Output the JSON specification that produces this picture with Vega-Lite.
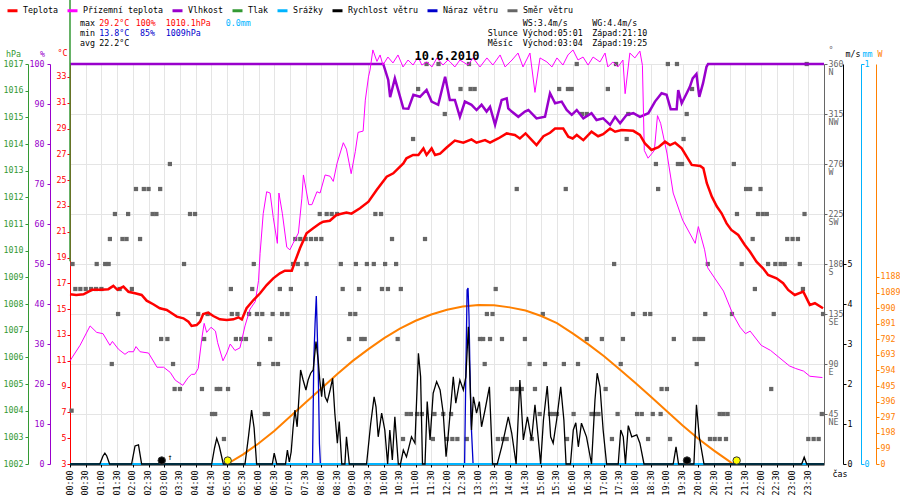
{
  "$schema": "https://vega.github.io/schema/vega-lite/v6.json",
  "width": 754,
  "height": 400,
  "autosize": {"type": "none"},
  "padding": {"left": 70, "top": 64, "right": 76, "bottom": 36},
  "background": "#ffffff",
  "config": {
    "view": {"stroke": null},
    "font": "DejaVu Sans Mono",
    "axis": {"labelFont": "DejaVu Sans Mono", "labelFontSize": 8.3, "titleFont": "DejaVu Sans Mono", "titleFontSize": 8.3, "titleFontWeight": "normal", "grid": false, "labelFlush": false, "labelOverlap": false, "titleAngle": 0, "titleBaseline": "middle"}
  },
  "datasets": {
    "temp": [
      {"t":0,"v":16.15},{"t":0.2,"v":16.1},{"t":0.43,"v":16.15},{"t":0.7,"v":16.5},{"t":1.0,"v":16.5},{"t":1.22,"v":16.55},{"t":1.38,"v":16.8},{"t":1.51,"v":16.5},{"t":1.7,"v":16.75},{"t":1.86,"v":16.35},{"t":2.07,"v":16.23},{"t":2.28,"v":16.1},{"t":2.44,"v":15.66},{"t":2.65,"v":15.38},{"t":2.86,"v":15.07},{"t":3.08,"v":14.94},{"t":3.24,"v":14.68},{"t":3.4,"v":14.42},{"t":3.61,"v":14.29},{"t":3.77,"v":14.03},{"t":3.87,"v":13.7},{"t":4.03,"v":13.77},{"t":4.14,"v":14.03},{"t":4.24,"v":14.63},{"t":4.4,"v":14.73},{"t":4.56,"v":14.47},{"t":4.77,"v":14.21},{"t":4.99,"v":14.16},{"t":5.2,"v":14.21},{"t":5.36,"v":14.37},{"t":5.47,"v":14.2},{"t":5.62,"v":15.07},{"t":5.84,"v":15.71},{"t":6.05,"v":16.23},{"t":6.26,"v":16.87},{"t":6.47,"v":17.39},{"t":6.68,"v":17.78},{"t":6.84,"v":17.98},{"t":7.06,"v":17.98},{"t":7.16,"v":18.68},{"t":7.32,"v":19.72},{"t":7.53,"v":20.88},{"t":7.74,"v":21.27},{"t":7.96,"v":21.65},{"t":8.06,"v":21.78},{"t":8.27,"v":21.85},{"t":8.48,"v":22.3},{"t":8.8,"v":22.48},{"t":8.96,"v":22.4},{"t":9.23,"v":22.82},{"t":9.5,"v":23.33},{"t":9.76,"v":24.24},{"t":10.08,"v":25.27},{"t":10.29,"v":25.53},{"t":10.61,"v":26.3},{"t":10.71,"v":26.69},{"t":10.92,"v":26.95},{"t":11.09,"v":26.95},{"t":11.25,"v":27.46},{"t":11.35,"v":26.95},{"t":11.51,"v":27.46},{"t":11.62,"v":26.95},{"t":11.78,"v":27.05},{"t":11.99,"v":27.53},{"t":12.25,"v":28.06},{"t":12.52,"v":27.9},{"t":12.78,"v":28.16},{"t":12.94,"v":27.9},{"t":13.21,"v":28.1},{"t":13.37,"v":27.9},{"t":13.63,"v":28.23},{"t":13.9,"v":28.62},{"t":14.16,"v":28.5},{"t":14.32,"v":28.23},{"t":14.5,"v":28.62},{"t":14.7,"v":28.1},{"t":14.85,"v":27.72},{"t":15.07,"v":28.4},{"t":15.28,"v":28.67},{"t":15.44,"v":29.0},{"t":15.7,"v":29.0},{"t":15.86,"v":28.36},{"t":16.0,"v":28.23},{"t":16.13,"v":28.5},{"t":16.34,"v":28.1},{"t":16.6,"v":28.75},{"t":16.81,"v":28.4},{"t":16.97,"v":28.56},{"t":17.19,"v":29.0},{"t":17.35,"v":28.75},{"t":17.56,"v":28.88},{"t":17.93,"v":28.82},{"t":18.14,"v":28.5},{"t":18.3,"v":27.85},{"t":18.51,"v":27.34},{"t":18.73,"v":27.55},{"t":18.94,"v":27.98},{"t":19.1,"v":27.72},{"t":19.26,"v":27.9},{"t":19.47,"v":27.46},{"t":19.63,"v":26.82},{"t":19.79,"v":26.18},{"t":20.06,"v":26.1},{"t":20.16,"v":25.92},{"t":20.27,"v":24.76},{"t":20.43,"v":23.72},{"t":20.59,"v":22.95},{"t":20.74,"v":22.43},{"t":20.9,"v":21.65},{"t":21.05,"v":21.14},{"t":21.27,"v":20.75},{"t":21.48,"v":19.98},{"t":21.64,"v":19.47},{"t":21.85,"v":18.68},{"t":22.06,"v":18.17},{"t":22.22,"v":17.65},{"t":22.49,"v":17.39},{"t":22.7,"v":17.01},{"t":22.86,"v":16.49},{"t":23.07,"v":16.1},{"t":23.34,"v":16.36},{"t":23.55,"v":15.33},{"t":23.71,"v":15.46},{"t":23.97,"v":15.07}
    ],
    "feel": [
      {"t":0,"v":11.0},{"t":0.32,"v":12.2},{"t":0.64,"v":13.7},{"t":0.85,"v":13.2},{"t":1.05,"v":13.1},{"t":1.27,"v":12.2},{"t":1.35,"v":12.5},{"t":1.54,"v":11.9},{"t":1.75,"v":11.5},{"t":1.86,"v":11.7},{"t":2.02,"v":11.7},{"t":2.1,"v":12.1},{"t":2.23,"v":11.7},{"t":2.5,"v":11.6},{"t":2.77,"v":10.5},{"t":2.98,"v":10.5},{"t":3.19,"v":10.1},{"t":3.35,"v":9.5},{"t":3.59,"v":9.1},{"t":3.76,"v":9.7},{"t":3.87,"v":9.95},{"t":3.97,"v":9.95},{"t":4.08,"v":10.4},{"t":4.2,"v":12.8},{"t":4.27,"v":13.9},{"t":4.35,"v":13.2},{"t":4.49,"v":13.6},{"t":4.63,"v":13.3},{"t":4.7,"v":12.4},{"t":4.87,"v":11.0},{"t":4.99,"v":11.6},{"t":5.1,"v":12.3},{"t":5.25,"v":11.8},{"t":5.41,"v":12.0},{"t":5.57,"v":13.7},{"t":5.73,"v":15.0},{"t":5.9,"v":15.6},{"t":6.0,"v":17.2},{"t":6.05,"v":19.3},{"t":6.15,"v":22.4},{"t":6.26,"v":24.1},{"t":6.37,"v":24.0},{"t":6.47,"v":22.1},{"t":6.6,"v":20.1},{"t":6.65,"v":24.0},{"t":6.76,"v":22.4},{"t":6.9,"v":19.8},{"t":7.0,"v":19.6},{"t":7.1,"v":20.1},{"t":7.27,"v":20.9},{"t":7.38,"v":23.6},{"t":7.43,"v":25.4},{"t":7.6,"v":23.1},{"t":7.7,"v":23.1},{"t":7.86,"v":24.1},{"t":7.96,"v":24.0},{"t":8.12,"v":25.4},{"t":8.28,"v":25.3},{"t":8.38,"v":24.9},{"t":8.5,"v":26.3},{"t":8.7,"v":27.9},{"t":8.8,"v":27.4},{"t":8.95,"v":25.5},{"t":9.08,"v":27.2},{"t":9.17,"v":28.7},{"t":9.33,"v":28.8},{"t":9.4,"v":31.2},{"t":9.5,"v":33.0},{"t":9.55,"v":33.53},{"t":9.64,"v":35.09},{"t":9.77,"v":34.2},{"t":9.87,"v":34.7},{"t":9.96,"v":33.92},{"t":10.12,"v":34.54},{"t":10.28,"v":34.08},{"t":10.44,"v":34.7},{"t":10.6,"v":33.77},{"t":10.76,"v":34.31},{"t":10.92,"v":33.92},{"t":11.08,"v":34.54},{"t":11.2,"v":33.92},{"t":11.36,"v":34.16},{"t":11.52,"v":33.77},{"t":11.68,"v":34.47},{"t":11.87,"v":33.92},{"t":12.03,"v":34.31},{"t":12.1,"v":34.16},{"t":12.25,"v":33.77},{"t":12.41,"v":34.31},{"t":12.67,"v":33.92},{"t":12.83,"v":34.47},{"t":13.05,"v":33.77},{"t":13.27,"v":34.47},{"t":13.46,"v":33.92},{"t":13.69,"v":34.7},{"t":13.85,"v":33.77},{"t":14.07,"v":34.31},{"t":14.26,"v":34.85},{"t":14.42,"v":33.77},{"t":14.64,"v":34.85},{"t":14.8,"v":31.8},{"t":14.96,"v":34.47},{"t":15.18,"v":34.16},{"t":15.34,"v":33.77},{"t":15.5,"v":34.47},{"t":15.69,"v":33.92},{"t":15.85,"v":34.7},{"t":16.01,"v":35.09},{"t":16.17,"v":34.31},{"t":16.33,"v":34.54},{"t":16.49,"v":33.92},{"t":16.65,"v":34.54},{"t":16.87,"v":34.16},{"t":17.03,"v":34.85},{"t":17.12,"v":33.77},{"t":17.28,"v":34.16},{"t":17.44,"v":33.77},{"t":17.6,"v":34.31},{"t":17.67,"v":31.7},{"t":17.82,"v":34.85},{"t":17.98,"v":34.47},{"t":18.14,"v":35.0},{"t":18.22,"v":33.9},{"t":18.28,"v":27.3},{"t":18.4,"v":26.7},{"t":18.6,"v":27.3},{"t":18.7,"v":30.0},{"t":18.8,"v":29.4},{"t":19.0,"v":27.1},{"t":19.2,"v":24.0},{"t":19.5,"v":21.9},{"t":19.9,"v":20.1},{"t":20.0,"v":21.4},{"t":20.2,"v":19.6},{"t":20.3,"v":18.2},{"t":20.8,"v":16.4},{"t":21.1,"v":14.6},{"t":21.33,"v":13.6},{"t":21.5,"v":13.1},{"t":21.65,"v":13.3},{"t":22.0,"v":12.2},{"t":22.3,"v":11.8},{"t":22.6,"v":11.2},{"t":22.9,"v":10.6},{"t":23.1,"v":10.4},{"t":23.35,"v":10.2},{"t":23.55,"v":9.8},{"t":23.95,"v":9.7}
    ],
    "hum": [
      {"t":0,"v":100},{"t":9.97,"v":100},{"t":10.13,"v":96},{"t":10.19,"v":91.7},{"t":10.34,"v":96.4},{"t":10.61,"v":88.9},{"t":10.77,"v":88.8},{"t":10.93,"v":92.3},{"t":11.14,"v":91.8},{"t":11.35,"v":93.5},{"t":11.51,"v":90.6},{"t":11.72,"v":89.8},{"t":11.94,"v":96.8},{"t":12.09,"v":91},{"t":12.25,"v":91},{"t":12.41,"v":86.8},{"t":12.57,"v":90.6},{"t":12.78,"v":89.8},{"t":12.94,"v":88.5},{"t":13.1,"v":89.8},{"t":13.26,"v":88.1},{"t":13.37,"v":89.3},{"t":13.53,"v":84.8},{"t":13.74,"v":91},{"t":13.9,"v":91.4},{"t":13.95,"v":88.9},{"t":14.06,"v":88.1},{"t":14.27,"v":86.8},{"t":14.48,"v":88.1},{"t":14.59,"v":88.5},{"t":14.85,"v":86.4},{"t":15.12,"v":86.8},{"t":15.28,"v":92.7},{"t":15.44,"v":90.2},{"t":15.65,"v":90.6},{"t":15.81,"v":88.5},{"t":15.97,"v":87.3},{"t":16.13,"v":88.5},{"t":16.34,"v":86.4},{"t":16.6,"v":87.7},{"t":16.76,"v":86},{"t":16.97,"v":86.4},{"t":17.19,"v":84.8},{"t":17.35,"v":86.8},{"t":17.51,"v":85.2},{"t":17.72,"v":87.3},{"t":17.93,"v":87.7},{"t":18.14,"v":86.8},{"t":18.41,"v":87.7},{"t":18.62,"v":90.6},{"t":18.83,"v":92.7},{"t":18.99,"v":92.3},{"t":19.12,"v":88.7},{"t":19.31,"v":88.7},{"t":19.36,"v":93.5},{"t":19.47,"v":90.2},{"t":19.63,"v":92.7},{"t":19.73,"v":94.3},{"t":19.82,"v":96.4},{"t":19.94,"v":97.5},{"t":20.03,"v":91.8},{"t":20.15,"v":95.2},{"t":20.26,"v":99.3},{"t":20.31,"v":100},{"t":24,"v":100}
    ],
    "pres": [{"t":0,"v":1009.6},{"t":0,"v":1019.6}],
    "rain": [{"t":0,"v":0},{"t":24,"v":0}],
    "gust": [
      {"t":0,"v":0},{"t":7.72,"v":0},{"t":7.76,"v":2.6},{"t":7.8,"v":3.5},{"t":7.84,"v":4.2},{"t":7.87,"v":3.3},{"t":7.9,"v":2.4},{"t":7.94,"v":0.5},{"t":7.97,"v":0},{"t":12.56,"v":0},{"t":12.6,"v":2.3},{"t":12.64,"v":4.35},{"t":12.67,"v":4.4},{"t":12.7,"v":3.7},{"t":12.73,"v":2.4},{"t":12.77,"v":1.0},{"t":12.8,"v":0.5},{"t":12.83,"v":0},{"t":24,"v":0}
    ],
    "wind": [
      {"t":0,"v":0},{"t":0.95,"v":0},{"t":1.05,"v":0.2},{"t":1.11,"v":0.27},{"t":1.17,"v":0.2},{"t":1.26,"v":0},{"t":1.96,"v":0},{"t":2.07,"v":0.45},{"t":2.18,"v":0.48},{"t":2.28,"v":0},{"t":4.51,"v":0},{"t":4.6,"v":0.4},{"t":4.67,"v":0.64},{"t":4.75,"v":0.45},{"t":4.88,"v":0},{"t":5.57,"v":0},{"t":5.68,"v":0.68},{"t":5.78,"v":1.35},{"t":5.86,"v":0.9},{"t":5.94,"v":0},{"t":6.44,"v":0},{"t":6.5,"v":0.27},{"t":6.58,"v":0},{"t":6.86,"v":0},{"t":6.92,"v":0.35},{"t":6.98,"v":0.05},{"t":7.04,"v":0.3},{"t":7.1,"v":0.9},{"t":7.16,"v":1.35},{"t":7.23,"v":0.93},{"t":7.34,"v":2.35},{"t":7.42,"v":2.1},{"t":7.51,"v":1.85},{"t":7.58,"v":2.1},{"t":7.66,"v":2.27},{"t":7.74,"v":2.35},{"t":7.83,"v":3.06},{"t":7.9,"v":2.6},{"t":7.95,"v":2.1},{"t":8.01,"v":1.68},{"t":8.06,"v":2.14},{"t":8.12,"v":1.68},{"t":8.19,"v":1.56},{"t":8.28,"v":1.85},{"t":8.36,"v":2.14},{"t":8.43,"v":1.27},{"t":8.51,"v":0.52},{"t":8.57,"v":1.06},{"t":8.65,"v":0},{"t":8.75,"v":0},{"t":8.8,"v":0.68},{"t":8.89,"v":0},{"t":9.44,"v":0},{"t":9.57,"v":1.0},{"t":9.68,"v":1.68},{"t":9.74,"v":1.43},{"t":9.81,"v":0.68},{"t":9.92,"v":1.27},{"t":10.02,"v":0.85},{"t":10.11,"v":0},{"t":10.18,"v":0.85},{"t":10.26,"v":0.1},{"t":10.34,"v":1.18},{"t":10.45,"v":0},{"t":10.52,"v":0},{"t":10.61,"v":0.35},{"t":10.71,"v":0.18},{"t":10.87,"v":0.68},{"t":10.98,"v":0.52},{"t":11.09,"v":2.77},{"t":11.16,"v":2.18},{"t":11.22,"v":0},{"t":11.3,"v":0},{"t":11.37,"v":1.56},{"t":11.46,"v":0.6},{"t":11.56,"v":1.77},{"t":11.67,"v":2.06},{"t":11.78,"v":1.85},{"t":11.88,"v":1.27},{"t":11.97,"v":0.18},{"t":12.04,"v":0.73},{"t":12.2,"v":2.18},{"t":12.28,"v":1.52},{"t":12.41,"v":2.1},{"t":12.52,"v":1.85},{"t":12.6,"v":2.18},{"t":12.68,"v":3.43},{"t":12.78,"v":0.85},{"t":12.84,"v":1.68},{"t":12.94,"v":1.27},{"t":13.03,"v":1.56},{"t":13.1,"v":0.93},{"t":13.21,"v":1.35},{"t":13.35,"v":1.93},{"t":13.45,"v":0},{"t":13.6,"v":0},{"t":13.74,"v":0.43},{"t":13.84,"v":0.77},{"t":13.95,"v":1.18},{"t":14.06,"v":0.77},{"t":14.2,"v":0},{"t":14.32,"v":2.1},{"t":14.43,"v":0.6},{"t":14.56,"v":1.18},{"t":14.69,"v":0.6},{"t":14.8,"v":1.48},{"t":14.9,"v":0.68},{"t":14.98,"v":0},{"t":15.07,"v":1.1},{"t":15.19,"v":1.95},{"t":15.3,"v":0.68},{"t":15.38,"v":0.52},{"t":15.49,"v":1.1},{"t":15.62,"v":1.93},{"t":15.72,"v":1.1},{"t":15.79,"v":0},{"t":15.93,"v":0},{"t":16.02,"v":0.85},{"t":16.1,"v":1.03},{"t":16.18,"v":0.43},{"t":16.28,"v":1.02},{"t":16.44,"v":0.68},{"t":16.6,"v":0},{"t":16.71,"v":1.6},{"t":16.78,"v":2.27},{"t":16.87,"v":1.93},{"t":16.97,"v":0.85},{"t":17.08,"v":0},{"t":17.45,"v":0},{"t":17.53,"v":0.85},{"t":17.61,"v":0.68},{"t":17.68,"v":0},{"t":17.77,"v":0.96},{"t":17.88,"v":0.68},{"t":18.04,"v":0.73},{"t":18.14,"v":0.52},{"t":18.27,"v":0},{"t":19.2,"v":0},{"t":19.29,"v":0.43},{"t":19.37,"v":0},{"t":19.86,"v":0},{"t":19.94,"v":1.48},{"t":20.03,"v":0.68},{"t":20.18,"v":0},{"t":23.29,"v":0},{"t":23.37,"v":0.17},{"t":23.45,"v":0},{"t":24,"v":0}
    ],
    "sol": [
      {"t":0,"v":0},{"t":5.0,"v":0},{"t":5.5,"v":60},{"t":6.0,"v":130},{"t":6.5,"v":210},{"t":7.0,"v":300},{"t":7.5,"v":390},{"t":8.0,"v":480},{"t":8.5,"v":570},{"t":9.0,"v":655},{"t":9.5,"v":730},{"t":10.0,"v":800},{"t":10.5,"v":860},{"t":11.0,"v":910},{"t":11.5,"v":950},{"t":12.0,"v":980},{"t":12.5,"v":1000},{"t":13.0,"v":1010},{"t":13.5,"v":1008},{"t":14.0,"v":995},{"t":14.5,"v":975},{"t":15.0,"v":940},{"t":15.5,"v":895},{"t":16.0,"v":830},{"t":16.5,"v":760},{"t":17.0,"v":685},{"t":17.5,"v":600},{"t":18.0,"v":515},{"t":18.5,"v":425},{"t":19.0,"v":335},{"t":19.5,"v":245},{"t":20.0,"v":160},{"t":20.5,"v":85},{"t":21.0,"v":15},{"t":21.1,"v":0},{"t":24,"v":0}
    ],
    "astro": [
      {"t":5.02,"body":"sun"},{"t":21.22,"body":"sun"},{"t":2.92,"body":"moon"},{"t":19.64,"body":"moon"}
    ],
    "date": [{"t":12.0,"v":34.62,"label":"10.6.2010"}],
    "notes": [
      {"t":0.318,"v":37.08,"label":"max","g":"k"},{"t":0.933,"v":37.08,"label":"29.2°C","g":"max"},{"t":2.091,"v":37.08,"label":"100%","g":"max"},{"t":3.046,"v":37.08,"label":"1010.1hPa","g":"max"},{"t":4.956,"v":37.08,"label":"0.0mm","g":"rain"},
      {"t":0.318,"v":36.33,"label":"min","g":"k"},{"t":0.933,"v":36.33,"label":"13.8°C","g":"min"},{"t":2.228,"v":36.33,"label":"85%","g":"min"},{"t":3.046,"v":36.33,"label":"1009hPa","g":"min"},
      {"t":0.318,"v":35.57,"label":"avg","g":"k"},{"t":0.933,"v":35.57,"label":"22.2°C","g":"k"},
      {"t":14.409,"v":37.08,"label":"WS:3.4m/s","g":"k"},{"t":16.625,"v":37.08,"label":"WG:4.4m/s","g":"k"},
      {"t":13.295,"v":36.33,"label":"Slunce","g":"k"},{"t":14.409,"v":36.33,"label":"Východ:05:01","g":"k"},{"t":16.625,"v":36.33,"label":"Západ:21:10","g":"k"},
      {"t":13.295,"v":35.57,"label":"Měsíc","g":"k"},{"t":14.409,"v":35.57,"label":"Východ:03:04","g":"k"},{"t":16.625,"v":35.57,"label":"Západ:19:25","g":"k"},
      {"t":3.1,"v":3.5,"label":"↑","g":"k"}
    ],
    "dir": [
      {"t":11.35,"deg":360},{"t":11.73,"deg":360},{"t":12.7,"deg":360},{"t":16.13,"deg":360},{"t":17.38,"deg":360},{"t":19.03,"deg":360},{"t":19.32,"deg":360},{"t":23.45,"deg":360},
      {"t":11.08,"deg":337.5},{"t":12.43,"deg":337.5},{"t":12.75,"deg":337.5},{"t":12.88,"deg":337.5},{"t":15.57,"deg":337.5},{"t":15.85,"deg":337.5},{"t":15.97,"deg":337.5},{"t":17.12,"deg":337.5},{"t":19.8,"deg":337.5},
      {"t":11.93,"deg":315},{"t":16.3,"deg":315},{"t":16.45,"deg":315},{"t":17.77,"deg":315},{"t":19.63,"deg":315},
      {"t":10.92,"deg":292.5},{"t":17.72,"deg":292.5},{"t":19.53,"deg":292.5},
      {"t":3.18,"deg":270},{"t":18.65,"deg":270},{"t":19.35,"deg":270},{"t":19.48,"deg":270},{"t":21.13,"deg":270},
      {"t":2.1,"deg":247.5},{"t":2.35,"deg":247.5},{"t":2.5,"deg":247.5},{"t":2.87,"deg":247.5},{"t":14.22,"deg":247.5},{"t":15.78,"deg":247.5},{"t":18.72,"deg":247.5},{"t":21.52,"deg":247.5},{"t":21.65,"deg":247.5},{"t":21.98,"deg":247.5},
      {"t":1.43,"deg":225},{"t":1.85,"deg":225},{"t":2.63,"deg":225},{"t":2.75,"deg":225},{"t":3.82,"deg":225},{"t":3.98,"deg":225},{"t":7.95,"deg":225},{"t":8.17,"deg":225},{"t":8.33,"deg":225},{"t":8.5,"deg":225},{"t":9.72,"deg":225},{"t":9.9,"deg":225},{"t":21.23,"deg":225},{"t":21.9,"deg":225},{"t":22.05,"deg":225},{"t":22.18,"deg":225},{"t":23.38,"deg":225},
      {"t":1.27,"deg":202.5},{"t":1.67,"deg":202.5},{"t":1.8,"deg":202.5},{"t":2.23,"deg":202.5},{"t":7.17,"deg":202.5},{"t":7.33,"deg":202.5},{"t":7.5,"deg":202.5},{"t":7.67,"deg":202.5},{"t":7.83,"deg":202.5},{"t":8.0,"deg":202.5},{"t":10.25,"deg":202.5},{"t":11.3,"deg":202.5},{"t":21.73,"deg":202.5},{"t":22.83,"deg":202.5},{"t":23.0,"deg":202.5},{"t":23.17,"deg":202.5},
      {"t":0.08,"deg":180},{"t":0.85,"deg":180},{"t":1.12,"deg":180},{"t":1.23,"deg":180},{"t":3.63,"deg":180},{"t":5.85,"deg":180},{"t":7.1,"deg":180},{"t":7.25,"deg":180},{"t":7.53,"deg":180},{"t":8.62,"deg":180},{"t":9.1,"deg":180},{"t":9.45,"deg":180},{"t":9.67,"deg":180},{"t":10.03,"deg":180},{"t":10.38,"deg":180},{"t":17.32,"deg":180},{"t":20.3,"deg":180},{"t":21.38,"deg":180},{"t":22.22,"deg":180},{"t":22.45,"deg":180},{"t":22.62,"deg":180},{"t":22.75,"deg":180},{"t":23.23,"deg":180},
      {"t":0.17,"deg":157.5},{"t":0.33,"deg":157.5},{"t":0.5,"deg":157.5},{"t":0.67,"deg":157.5},{"t":0.83,"deg":157.5},{"t":1.0,"deg":157.5},{"t":1.58,"deg":157.5},{"t":1.97,"deg":157.5},{"t":5.12,"deg":157.5},{"t":5.8,"deg":157.5},{"t":6.68,"deg":157.5},{"t":7.03,"deg":157.5},{"t":8.68,"deg":157.5},{"t":9.2,"deg":157.5},{"t":9.93,"deg":157.5},{"t":10.12,"deg":157.5},{"t":10.53,"deg":157.5},{"t":13.55,"deg":157.5},{"t":21.8,"deg":157.5},{"t":23.33,"deg":157.5},
      {"t":1.53,"deg":135},{"t":4.08,"deg":135},{"t":4.38,"deg":135},{"t":5.15,"deg":135},{"t":5.33,"deg":135},{"t":5.7,"deg":135},{"t":5.95,"deg":135},{"t":6.12,"deg":135},{"t":6.45,"deg":135},{"t":6.75,"deg":135},{"t":6.92,"deg":135},{"t":8.92,"deg":135},{"t":9.08,"deg":135},{"t":13.27,"deg":135},{"t":13.45,"deg":135},{"t":15.05,"deg":135},{"t":17.92,"deg":135},{"t":18.3,"deg":135},{"t":18.47,"deg":135},{"t":20.22,"deg":135},{"t":21.07,"deg":135},{"t":22.4,"deg":135},{"t":23.97,"deg":135},
      {"t":2.9,"deg":112.5},{"t":3.1,"deg":112.5},{"t":4.27,"deg":112.5},{"t":5.28,"deg":112.5},{"t":5.45,"deg":112.5},{"t":5.6,"deg":112.5},{"t":6.37,"deg":112.5},{"t":8.88,"deg":112.5},{"t":9.27,"deg":112.5},{"t":9.38,"deg":112.5},{"t":10.43,"deg":112.5},{"t":13.05,"deg":112.5},{"t":13.15,"deg":112.5},{"t":13.37,"deg":112.5},{"t":13.75,"deg":112.5},{"t":14.48,"deg":112.5},{"t":16.45,"deg":112.5},{"t":16.93,"deg":112.5},{"t":17.6,"deg":112.5},{"t":19.22,"deg":112.5},{"t":19.88,"deg":112.5},{"t":20.02,"deg":112.5},{"t":20.15,"deg":112.5},
      {"t":1.33,"deg":90},{"t":3.28,"deg":90},{"t":6.02,"deg":90},{"t":6.47,"deg":90},{"t":6.62,"deg":90},{"t":13.2,"deg":90},{"t":14.63,"deg":90},{"t":15.12,"deg":90},{"t":15.72,"deg":90},{"t":16.17,"deg":90},{"t":17.53,"deg":90},{"t":19.95,"deg":90},
      {"t":3.33,"deg":67.5},{"t":3.5,"deg":67.5},{"t":4.2,"deg":67.5},{"t":4.67,"deg":67.5},{"t":4.78,"deg":67.5},{"t":5.03,"deg":67.5},{"t":14.07,"deg":67.5},{"t":14.22,"deg":67.5},{"t":14.38,"deg":67.5},{"t":14.8,"deg":67.5},{"t":17.05,"deg":67.5},{"t":18.83,"deg":67.5},{"t":19.0,"deg":67.5},{"t":22.32,"deg":67.5},
      {"t":0.05,"deg":48},{"t":4.52,"deg":45},{"t":4.62,"deg":45},{"t":6.2,"deg":45},{"t":6.3,"deg":45},{"t":10.72,"deg":45},{"t":10.85,"deg":45},{"t":11.05,"deg":45},{"t":11.2,"deg":45},{"t":11.6,"deg":45},{"t":11.88,"deg":45},{"t":12.13,"deg":45},{"t":14.95,"deg":45},{"t":15.28,"deg":45},{"t":15.38,"deg":45},{"t":15.5,"deg":45},{"t":16.03,"deg":45},{"t":16.6,"deg":45},{"t":16.7,"deg":45},{"t":16.82,"deg":45},{"t":17.43,"deg":45},{"t":18.05,"deg":45},{"t":18.2,"deg":45},{"t":18.55,"deg":45},{"t":18.8,"deg":45},{"t":20.68,"deg":45},{"t":20.8,"deg":45},{"t":20.93,"deg":45},{"t":23.93,"deg":45},
      {"t":4.9,"deg":22.5},{"t":10.6,"deg":22.5},{"t":11.55,"deg":22.5},{"t":12.0,"deg":22.5},{"t":12.17,"deg":22.5},{"t":12.33,"deg":22.5},{"t":12.63,"deg":22.5},{"t":13.62,"deg":22.5},{"t":13.78,"deg":22.5},{"t":13.9,"deg":22.5},{"t":14.7,"deg":22.5},{"t":15.82,"deg":22.5},{"t":17.25,"deg":22.5},{"t":18.4,"deg":22.5},{"t":19.1,"deg":22.5},{"t":20.37,"deg":22.5},{"t":20.52,"deg":22.5},{"t":20.68,"deg":22.5},{"t":20.88,"deg":22.5},{"t":23.5,"deg":22.5},{"t":23.67,"deg":22.5},{"t":23.83,"deg":22.5}
    ]
  },
  "encoding": {
    "x": {
      "field": "t", "type": "quantitative",
      "scale": {"domain": [0, 24], "nice": false, "zero": false},
      "axis": {
        "values": [0,0.5,1,1.5,2,2.5,3,3.5,4,4.5,5,5.5,6,6.5,7,7.5,8,8.5,9,9.5,10,10.5,11,11.5,12,12.5,13,13.5,14,14.5,15,15.5,16,16.5,17,17.5,18,18.5,19,19.5,20,20.5,21,21.5,22,22.5,23,23.5],
        "labelExpr": "format(floor(datum.value),'02d') + ':' + (datum.value % 1 ? '30' : '00')",
        "labelAngle": -90, "labelPadding": 3, "tickSize": 3, "tickColor": "#000000",
        "domainColor": "#000000", "domainWidth": 2, "labelColor": "#000000",
        "grid": true, "gridColor": "#e5e5e5",
        "title": "čas", "titleX": 762, "titleY": 10, "titleAlign": "left", "titleColor": "#000000"
      }
    }
  },
  "layer": [
    {
      "data": {"name": "dir"},
      "mark": {"type": "point", "shape": "square", "size": 18, "filled": true, "color": "#666666", "opacity": 1},
      "encoding": {
        "y": {"field": "deg", "type": "quantitative", "scale": {"domain": [0, 360], "nice": false},
          "axis": {"orient": "right", "offset": 0, "values": [45,90,135,180,225,270,315,360],
            "labelExpr": "[datum.label, datum.value==45?'NE':datum.value==90?'E':datum.value==135?'SE':datum.value==180?'S':datum.value==225?'SW':datum.value==270?'W':datum.value==315?'NW':'N']",
            "labelLineHeight": 8.5, "labelBaseline": "middle", "labelOffset": 0,
            "grid": true, "gridColor": "#e5e5e5", "domainColor": "#666666", "tickColor": "#666666", "labelColor": "#666666",
            "tickSize": 3, "labelPadding": 1,
            "title": "°", "titleX": 4, "titleY": -14, "titleAlign": "left", "titleColor": "#666666"}}
      }
    },
    {
      "data": {"name": "sol"},
      "mark": {"type": "line", "color": "#ff8000", "strokeWidth": 2, "clip": false},
      "encoding": {
        "y": {"field": "v", "type": "quantitative", "scale": {"domain": [0, 2541], "nice": false},
          "axis": {"orient": "right", "offset": 52, "values": [0,99,198,297,396,495,594,693,792,891,990,1089,1188], "format": "d",
            "domainColor": "#ff8000", "tickColor": "#ff8000", "labelColor": "#ff8000", "tickSize": 3, "labelPadding": 1,
            "title": "W", "titleX": 1, "titleY": -10, "titleAlign": "left", "titleColor": "#ff8000"}}
      }
    },
    {
      "data": {"name": "hum"},
      "mark": {"type": "line", "color": "#9900cc", "strokeWidth": 2.5, "clip": false},
      "encoding": {
        "y": {"field": "v", "type": "quantitative", "scale": {"domain": [0, 100], "nice": false},
          "axis": {"orient": "left", "offset": 20, "values": [0,10,20,30,40,50,60,70,80,90,100],
            "domainColor": "#9900cc", "tickColor": "#9900cc", "labelColor": "#9900cc", "tickSize": 3, "labelPadding": 3,
            "title": "%", "titleX": -8, "titleY": -10, "titleAlign": "center", "titleColor": "#9900cc"}}
      }
    },
    {
      "data": {"name": "feel"},
      "mark": {"type": "line", "color": "#ff00ff", "strokeWidth": 1, "clip": false},
      "encoding": {
        "y": {"field": "v", "type": "quantitative", "scale": {"domain": [3, 34], "nice": false, "zero": false}, "axis": null}
      }
    },
    {
      "data": {"name": "temp"},
      "mark": {"type": "line", "strokeWidth": 2.5, "clip": false},
      "encoding": {
        "y": {"field": "v", "type": "quantitative", "scale": {"domain": [3, 34], "nice": false, "zero": false},
          "axis": {"orient": "left", "offset": 0, "values": [3,5,7,9,11,13,15,17,19,21,23,25,27,29,31,33],
            "domainColor": "#ff0000", "tickColor": "#ff0000", "labelColor": "#ff0000", "tickSize": 3, "labelPadding": 1,
            "title": "°C", "titleX": -8, "titleY": -11, "titleAlign": "center", "titleColor": "#ff0000"}},
        "color": {"datum": "Teplota", "type": "nominal",
          "scale": {"domain": ["Teplota","Přízemní teplota","Vlhkost","Tlak","Srážky","Rychlost větru","Náraz větru","Směr větru"],
                    "range": ["#ff0000","#ff00ff","#9900cc","#339933","#00b4ff","#000000","#0000cc","#666666"]},
          "legend": {"orient": "none", "legendX": -64, "legendY": -60, "direction": "horizontal", "columns": 8, "title": null,
            "symbolType": "stroke", "symbolSize": 100, "symbolStrokeWidth": 3, "labelOffset": 4, "columnPadding": 3,
            "labelFont": "DejaVu Sans Mono", "labelFontSize": 8.3, "labelColor": "#000000", "padding": 0}}
      }
    },
    {
      "data": {"name": "pres"},
      "mark": {"type": "line", "color": "#339933", "strokeWidth": 1.5, "clip": false},
      "encoding": {
        "y": {"field": "v", "type": "quantitative", "scale": {"domain": [1002, 1017], "nice": false, "zero": false},
          "axis": {"orient": "left", "offset": 42, "values": [1002,1003,1004,1005,1006,1007,1008,1009,1010,1011,1012,1013,1014,1015,1016,1017],
            "format": "d", "domainColor": "#339933", "tickColor": "#339933", "labelColor": "#339933", "tickSize": 3, "labelPadding": 2,
            "title": "hPa", "titleX": -15, "titleY": -10, "titleAlign": "center", "titleColor": "#339933"}}
      }
    },
    {
      "data": {"name": "gust"},
      "mark": {"type": "line", "color": "#0000cc", "strokeWidth": 1.3, "clip": false},
      "encoding": {
        "y": {"field": "v", "type": "quantitative", "scale": {"domain": [0, 10], "nice": false}, "axis": null}
      }
    },
    {
      "data": {"name": "rain"},
      "mark": {"type": "line", "color": "#00b4ff", "strokeWidth": 2, "clip": false},
      "encoding": {
        "y": {"field": "v", "type": "quantitative", "scale": {"domain": [0, 1], "nice": false},
          "axis": {"orient": "right", "offset": 37, "values": [0, 1], "format": "d",
            "domainColor": "#00b4ff", "tickColor": "#00b4ff", "labelColor": "#00b4ff", "tickSize": 3, "labelPadding": 0,
            "title": "mm", "titleX": 1, "titleY": -10, "titleAlign": "left", "titleColor": "#00b4ff"}}
      }
    },
    {
      "data": {"name": "wind"},
      "mark": {"type": "line", "color": "#000000", "strokeWidth": 1.3, "clip": false},
      "encoding": {
        "y": {"field": "v", "type": "quantitative", "scale": {"domain": [0, 10], "nice": false},
          "axis": {"orient": "right", "offset": 19, "values": [0,1,2,3,4,5],
            "domainColor": "#000000", "tickColor": "#000000", "labelColor": "#000000", "tickSize": 3, "labelPadding": 1,
            "title": "m/s", "titleX": 2, "titleY": -10, "titleAlign": "left", "titleColor": "#000000"}}
      }
    },
    {
      "data": {"name": "astro"},
      "mark": {"type": "point", "shape": "circle", "size": 55, "filled": true, "stroke": "#333333", "strokeWidth": 1, "opacity": 1},
      "encoding": {
        "y": {"datum": 22, "type": "quantitative", "scale": {"domain": [0, 2541], "nice": false}, "axis": null},
        "fill": {"field": "body", "type": "nominal", "scale": {"domain": ["sun", "moon"], "range": ["#ffff00", "#000000"]}, "legend": null}
      }
    },
    {
      "data": {"name": "notes"},
      "mark": {"type": "text", "align": "left", "baseline": "middle", "font": "DejaVu Sans Mono", "fontSize": 8.3},
      "encoding": {
        "y": {"field": "v", "type": "quantitative", "scale": {"domain": [3, 34], "nice": false, "zero": false}, "axis": null},
        "text": {"field": "label"},
        "fill": {"field": "g", "type": "nominal", "scale": {"domain": ["k", "max", "min", "rain"], "range": ["#000000", "#ff0000", "#0000cc", "#00b4ff"]}, "legend": null}
      }
    },
    {
      "data": {"name": "date"},
      "mark": {"type": "text", "align": "center", "baseline": "middle", "font": "DejaVu Sans Mono", "fontSize": 12, "fontWeight": "bold", "color": "#000000"},
      "encoding": {
        "y": {"field": "v", "type": "quantitative", "scale": {"domain": [3, 34], "nice": false, "zero": false}, "axis": null},
        "text": {"field": "label"}
      }
    }
  ],
  "resolve": {"scale": {"y": "independent", "fill": "independent"}}
}
